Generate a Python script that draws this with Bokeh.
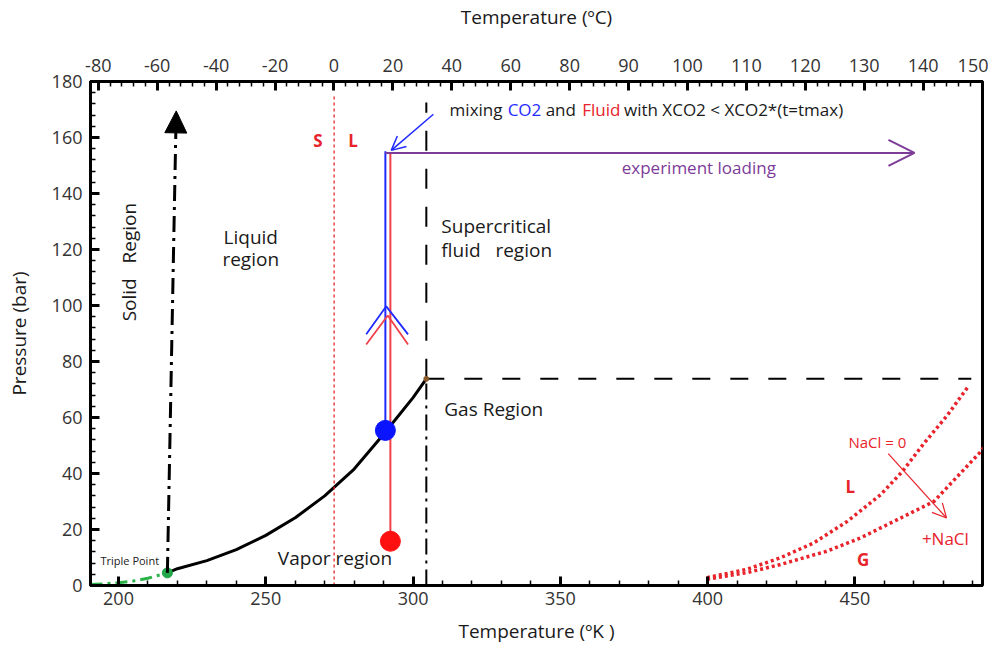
import math
from bokeh.plotting import figure
from bokeh.models import (Range1d, LinearAxis, FixedTicker, SingleIntervalTicker,
                          Arrow, OpenHead, NormalHead)
from bokeh.core.properties import value
from bokeh.embed import file_html
from bokeh.resources import INLINE

# ---------------- data (Kelvin, bar) ----------------
T_sub = [190.5, 195.0, 200.0, 205.0, 210.0, 216.6]
P_sub = [0.35, 0.6, 1.0, 1.6, 2.6, 4.5]

T_vap = [216.6, 220.0, 230.0, 240.0, 250.0, 260.0, 270.0, 280.0, 290.0, 300.0, 304.5]
P_vap = [4.5, 6.0, 8.9, 12.8, 17.9, 24.2, 32.0, 41.6, 54.0, 67.1, 73.8]

T_melt = [216.6, 219.6]
P_melt = [4.5, 169.5]

T_crit = 304.5
P_crit = 73.8
T_triple = 216.6
P_triple = 4.5
T_freeze = 273.2

T_nacl0 = [399.8, 413.4, 424.7, 436.0, 447.4, 458.7, 466.0, 473.4, 481.3, 488.6]
P_nacl0 = [2.8, 5.8, 9.9, 15.2, 22.9, 32.4, 40.6, 50.7, 60.7, 71.3]
T_nacl = [399.8, 413.4, 424.7, 440.6, 451.9, 463.2, 476.8, 492.6, 497.1]
P_nacl = [2.2, 4.6, 7.5, 12.3, 17.0, 22.9, 30.0, 47.7, 54.2]

T_co2 = 290.6
P_co2 = 55.4
T_fluid = 292.3
P_fluid = 15.8
P_loading = 154.5
T_loading_end = 470.2

celsius_tick_pos = [193.15, 213.15, 233.15, 253.15, 273.15, 293.15, 313.15, 333.15,
                    353.15, 373.15, 393.15, 413.15, 433.15, 453.15, 473.15, 493.15]
celsius_labels = ["-80", "-60", "-40", "-20", "0", "20", "40", "60",
                  "80", "90", "100", "110", "120", "130", "140", "150"]

FONT = "Open Sans"
INK = "#1a1a1a"
RED = "#e8232b"
LRED = "#f0404a"
BLUE = "#1f2bff"
PURPLE = "#7d3c98"
NB = "\u00a0"

p = figure(width=988, height=646, output_backend="svg", toolbar_location=None,
           x_range=Range1d(190.5, 493.3), y_range=Range1d(0, 180),
           min_border_left=90, min_border_right=6, min_border_top=80, min_border_bottom=58,
           background_fill_color="white", border_fill_color="white")
p.xgrid.visible = False
p.ygrid.visible = False
p.outline_line_color = "black"
p.outline_line_width = 3


def style_axis(ax):
    ax.axis_line_width = 3
    ax.axis_line_color = "black"
    ax.major_tick_in = 9
    ax.major_tick_out = 0
    ax.major_tick_line_width = 3
    ax.minor_tick_in = 5
    ax.minor_tick_out = 0
    ax.minor_tick_line_width = 1.5
    ax.major_label_text_font = FONT
    ax.major_label_text_font_size = "18px"
    ax.major_label_text_color = "#333333"
    ax.axis_label_text_font = FONT
    ax.axis_label_text_font_size = "19px"
    ax.axis_label_text_font_style = "normal"
    ax.axis_label_text_color = INK


# bottom axis (K)
xb = p.xaxis[0]
xb.ticker = SingleIntervalTicker(interval=50, num_minor_ticks=5)
xb.axis_label = "Temperature (ºK )"
style_axis(xb)
xb.major_label_standoff = 6
xb.axis_label_standoff = 10

# left axis (bar)
yl = p.yaxis[0]
yl.ticker = SingleIntervalTicker(interval=20, num_minor_ticks=5)
yl.axis_label = "Pressure (bar)"
style_axis(yl)
yl.major_label_standoff = 8
yl.axis_label_standoff = 17

# top axis (°C)
minor_c = [273.15 + 4 * k for k in range(-21, 56)]
top = LinearAxis(ticker=FixedTicker(ticks=celsius_tick_pos, minor_ticks=minor_c),
                 axis_label="Temperature (ºC)")
top.major_label_overrides = {pos: lab for pos, lab in zip(celsius_tick_pos, celsius_labels)}
style_axis(top)
top.major_label_standoff = 10
top.axis_label_standoff = 26
p.add_layout(top, "above")

# ---------------- phase lines ----------------
p.line(T_sub, P_sub, line_color="#2bb34a", line_width=3, line_dash="12 5 3 5")
p.line(T_vap, P_vap, line_color="black", line_width=3)

# melting line with arrow
p.add_layout(Arrow(x_start=T_melt[0], y_start=P_melt[0], x_end=T_melt[1], y_end=P_melt[1],
                   line_color="black", line_width=3, line_dash="16 6 3 6",
                   end=NormalHead(size=22, fill_color="black", line_color="black", line_width=1)))

# critical isotherm and isobar
p.line([T_crit, T_crit], [0, P_crit], line_color="black", line_width=2, line_dash="16 6 3 6")
p.line([T_crit, T_crit], [P_crit, 172.5], line_color="black", line_width=2, line_dash="20 18")
p.line([T_crit, 489.5], [P_crit, P_crit], line_color="black", line_width=2, line_dash="18 20")

# freezing line (0 °C)
p.line([T_freeze, T_freeze], [0, 175], line_color=RED, line_width=1.3, line_dash="3 3")

# NaCl boiling curves
p.line(T_nacl0, P_nacl0, line_color=RED, line_width=3.5, line_dash="3 3")
p.line(T_nacl, P_nacl, line_color=RED, line_width=3.5, line_dash="3 3")

# experiment loading path
p.line([T_co2, T_co2], [P_co2, P_loading + 0.6], line_color=BLUE, line_width=2)
p.line([T_fluid, T_fluid], [P_fluid, P_loading], line_color=LRED, line_width=2)
p.add_layout(Arrow(x_start=T_co2, y_start=P_loading, x_end=T_loading_end, y_end=P_loading,
                   line_color=PURPLE, line_width=2,
                   end=OpenHead(size=26, line_color=PURPLE, line_width=2)))

# chevrons on the vertical paths
p.line([284.1, 290.9, 298.3], [89.7, 99.7, 89.7], line_color=BLUE, line_width=1.8)
p.line([284.1, 291.4, 298.3], [86.1, 96.4, 86.1], line_color=LRED, line_width=1.8)

# points
p.scatter([T_triple], [P_triple], size=10, color="#22a64a")
p.scatter([T_crit], [P_crit], size=5, color="#8b5a2b")
p.scatter([T_co2], [P_co2], size=20, color="#0a14ff")
p.scatter([T_fluid], [P_fluid], size=20, color="#ff1010")

# arrows
p.add_layout(Arrow(x_start=306.9, y_start=168.3, x_end=292.6, y_end=155.4,
                   line_color=BLUE, line_width=1.5,
                   end=OpenHead(size=14, line_color=BLUE, line_width=1.5)))
p.add_layout(Arrow(x_start=461.3, y_start=47.1, x_end=481.1, y_end=24.1,
                   line_color=RED, line_width=1.2,
                   end=OpenHead(size=14, line_color=RED, line_width=1.2)))


# ---------------- texts ----------------
def label(x, y, txt, size="19px", color=INK, align="left", style="normal", angle=0.0):
    p.text(x=[x], y=[y], text=[txt], text_font=value(FONT), text_font_size=size,
           text_color=color, text_align=align, text_baseline="middle",
           text_font_style=style, angle=angle)


label(203.4, 115.5, "Solid" + NB * 3 + "Region", align="center", angle=math.pi / 2)
label(244.9, 124.4, "Liquid", align="center")
label(244.9, 116.6, "region", align="center")
label(309.6, 128.3, "Supercritical")
label(309.6, 119.8, "fluid" + NB * 3 + "region")
label(310.6, 63.1, "Gas Region")
label(273.5, 9.9, "Vapor region", align="center")
label(193.9, 8.9, "Triple Point", size="11px")
label(267.7, 158.8, "S", size="17px", color=RED, align="center", style="bold")
label(279.6, 158.8, "L", size="17px", color=RED, align="center", style="bold")
label(397.0, 149.2, "experiment loading", size="17px", color=PURPLE, align="center")
label(457.6, 51.4, "NaCl = 0", size="15px", color=RED, align="center")
label(448.4, 35.4, "L", size="17px", color=RED, align="center", style="bold")
label(480.7, 16.7, "+NaCl", size="17px", color=RED, align="center")
label(452.8, 9.2, "G", size="17px", color=RED, align="center", style="bold")

label(312.4, 170.1, "mixing", size="17px")
label(332.1, 170.1, "CO2", size="17px", color=BLUE)
label(345.0, 170.1, "and", size="17px")
label(357.4, 170.1, "Fluid", size="17px", color=RED)
label(371.6, 170.1, "with XCO2 < XCO2*(t=tmax)", size="17px")

open("out.html", "w").write(file_html(p, INLINE))
